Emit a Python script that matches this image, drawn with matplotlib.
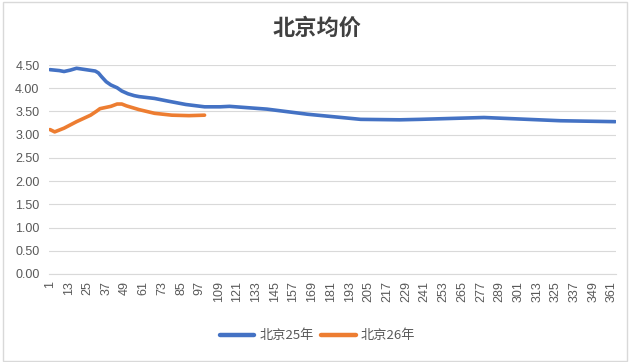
import matplotlib.pyplot as plt
from matplotlib.patches import Rectangle

# values (day number, price)
days_25 = [1, 7, 10, 14, 18, 22, 30, 32, 34, 37, 40, 44, 47, 51, 55, 58, 63,
           68, 77, 88, 100, 110, 116, 140, 166, 200, 225, 238, 279, 328, 363]
price_25 = [4.40, 4.38, 4.36, 4.39, 4.43, 4.41, 4.37, 4.33, 4.25, 4.14, 4.07,
            4.01, 3.94, 3.88, 3.84, 3.82, 3.80, 3.78, 3.72, 3.65, 3.60, 3.60,
            3.61, 3.55, 3.44, 3.33, 3.32, 3.33, 3.37, 3.30, 3.28]

days_26 = [1, 4, 10, 18, 27, 31, 33, 40, 44, 47, 50, 58, 68, 79, 90, 100]
price_26 = [3.11, 3.06, 3.14, 3.28, 3.42, 3.51, 3.56, 3.61, 3.66, 3.66, 3.62,
            3.54, 3.46, 3.42, 3.41, 3.42]

x_ticks = list(range(1, 362, 12))
y_ticks = [0, 0.5, 1.0, 1.5, 2.0, 2.5, 3.0, 3.5, 4.0, 4.5]

label_25 = '北京25年'
label_26 = '北京26年'
title = '北京均价'

blue = '#4472C4'
orange = '#ED7D31'
grid_color = '#D9D9D9'
text_color = '#595959'

fig = plt.figure(figsize=(6.35, 3.62), dpi=100)
ax = fig.add_axes([0.0775, 0.2431, 0.8925, 0.5773])

ax.plot(days_25, price_25, color=blue, lw=2.6, label=label_25,
        solid_capstyle='round', solid_joinstyle='round')
ax.plot(days_26, price_26, color=orange, lw=2.6, label=label_26,
        solid_capstyle='round', solid_joinstyle='round')

ax.set_xlim(0.5, 363.5)
ax.set_ylim(0, 4.5)
ax.set_yticks(y_ticks)
ax.set_yticklabels([f'{v:.2f}' for v in y_ticks])
ax.set_xticks(x_ticks)
ax.set_xticklabels([str(t) for t in x_ticks], rotation=90)

ax.grid(axis='y', color=grid_color, lw=0.8)
ax.set_axisbelow(True)
for side in ['left', 'right', 'top']:
    ax.spines[side].set_visible(False)
ax.spines['bottom'].set_color(grid_color)
ax.tick_params(axis='y', length=0, labelsize=9, labelcolor=text_color, pad=7)
ax.tick_params(axis='x', length=0, labelsize=9, labelcolor=text_color, pad=5)
for lab in ax.get_xticklabels() + ax.get_yticklabels():
    lab.set_family(['Liberation Sans', 'DejaVu Sans'])

fig.text(0.5, 0.922, title, ha='center', va='center', fontsize=16,
         fontweight='bold', color='#404040', family=['Noto Sans CJK SC'])

leg = fig.legend(loc='center', bbox_to_anchor=(0.5, 0.072), ncol=2,
                 frameon=False, handlelength=2.6, columnspacing=0.6,
                 handletextpad=0.4,
                 prop={'family': ['Noto Sans CJK SC'], 'size': 9.5})
for t in leg.get_texts():
    t.set_color(text_color)
for h in leg.legend_handles:
    h.set_linewidth(3.2)

# thin chart-area border
fig.patches.append(Rectangle((0.004, 0.004), 0.984, 0.99, transform=fig.transFigure,
                             fill=False, edgecolor=grid_color, lw=1))

fig.savefig('out.png', dpi=100)
